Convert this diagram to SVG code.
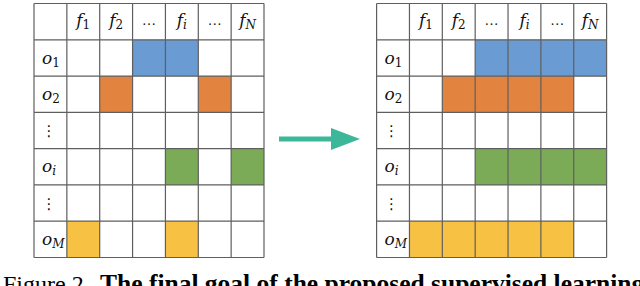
<svg xmlns="http://www.w3.org/2000/svg" width="640" height="286" viewBox="0 0 640 286">
<style>
.bg{fill:#ffffff}
.grid{fill:none;stroke:#5f5f5f;stroke-width:1.2}
.blue{fill:#6a9bd2}
.orange{fill:#e2843f}
.green{fill:#7bab56}
.yellow{fill:#f7c244}
.m{font-family:"DejaVu Serif","Liberation Serif",serif;font-style:italic;font-size:17px;fill:#111}
.hd{text-anchor:middle}
.sub{font-size:12px}
.up{font-style:normal}
.dots{font-family:"Liberation Serif",serif;font-size:14px;fill:#111;text-anchor:middle}
.vdots{font-family:"DejaVu Sans",sans-serif;font-size:15px;fill:#111;text-anchor:middle}
.cap{font-family:"Liberation Serif","Times New Roman",serif;font-size:24px;fill:#000}
.arrow{fill:#3cb79a}
</style>
<rect class="bg" x="0" y="0" width="640" height="286"/>

<g id="table-left" transform="translate(34,3.5)">
  <g id="left-cells">
    <rect class="blue" x="98.57" y="36.29" width="65.71" height="36.29"/>
    <rect class="orange" x="65.71" y="72.57" width="32.86" height="36.29"/>
    <rect class="orange" x="164.29" y="72.57" width="32.86" height="36.29"/>
    <rect class="green" x="131.43" y="145.14" width="32.86" height="36.29"/>
    <rect class="green" x="197.14" y="145.14" width="32.86" height="36.29"/>
    <rect class="yellow" x="32.86" y="217.71" width="32.86" height="36.29"/>
    <rect class="yellow" x="131.43" y="217.71" width="32.86" height="36.29"/>
  </g>
  <path class="grid" d="M0 0V254M32.86 0V254M65.71 0V254M98.57 0V254M131.43 0V254M164.29 0V254M197.14 0V254M230 0V254M0 0H230M0 36.29H230M0 72.57H230M0 108.86H230M0 145.14H230M0 181.43H230M0 217.71H230M0 254H230"/>
  <g id="left-header">
    <text class="m hd" x="49.29" y="22">f<tspan class="sub up" dy="3">1</tspan></text>
    <text class="m hd" x="82.14" y="22">f<tspan class="sub up" dy="3">2</tspan></text>
    <text class="dots" x="115" y="21">…</text>
    <text class="m hd" x="147.86" y="22">f<tspan class="sub" dy="3">i</tspan></text>
    <text class="dots" x="180.71" y="21">…</text>
    <text class="m hd" x="213.57" y="22">f<tspan class="sub" dy="3">N</tspan></text>
  </g>
  <g id="left-rows">
    <text class="m" x="8" y="60">o<tspan class="sub up" dy="3">1</tspan></text>
    <text class="m" x="8" y="96.3">o<tspan class="sub up" dy="3">2</tspan></text>
    <text class="vdots" x="15" y="132">⋮</text>
    <text class="m" x="8" y="168.9">o<tspan class="sub" dy="3">i</tspan></text>
    <text class="vdots" x="15" y="205">⋮</text>
    <text class="m" x="8" y="241.5">o<tspan class="sub" dy="3">M</tspan></text>
  </g>
</g>

<g id="connectors">
  <g id="arrow">
    <rect class="arrow" x="279" y="136.5" width="54" height="5"/>
    <polygon class="arrow" points="331,128 360,139 331,150"/>
  </g>
</g>

<g id="table-right" transform="translate(376.6,3.5)">
  <g id="right-cells">
    <rect class="blue" x="98.57" y="36.29" width="131.43" height="36.29"/>
    <rect class="orange" x="65.71" y="72.57" width="131.43" height="36.29"/>
    <rect class="green" x="98.57" y="145.14" width="131.43" height="36.29"/>
    <rect class="yellow" x="32.86" y="217.71" width="164.29" height="36.29"/>
  </g>
  <path class="grid" d="M0 0V254M32.86 0V254M65.71 0V254M98.57 0V254M131.43 0V254M164.29 0V254M197.14 0V254M230 0V254M0 0H230M0 36.29H230M0 72.57H230M0 108.86H230M0 145.14H230M0 181.43H230M0 217.71H230M0 254H230"/>
  <g id="right-header">
    <text class="m hd" x="49.29" y="22">f<tspan class="sub up" dy="3">1</tspan></text>
    <text class="m hd" x="82.14" y="22">f<tspan class="sub up" dy="3">2</tspan></text>
    <text class="dots" x="115" y="21">…</text>
    <text class="m hd" x="147.86" y="22">f<tspan class="sub" dy="3">i</tspan></text>
    <text class="dots" x="180.71" y="21">…</text>
    <text class="m hd" x="213.57" y="22">f<tspan class="sub" dy="3">N</tspan></text>
  </g>
  <g id="right-rows">
    <text class="m" x="8" y="60">o<tspan class="sub up" dy="3">1</tspan></text>
    <text class="m" x="8" y="96.3">o<tspan class="sub up" dy="3">2</tspan></text>
    <text class="vdots" x="15" y="132">⋮</text>
    <text class="m" x="8" y="168.9">o<tspan class="sub" dy="3">i</tspan></text>
    <text class="vdots" x="15" y="205">⋮</text>
    <text class="m" x="8" y="241.5">o<tspan class="sub" dy="3">M</tspan></text>
  </g>
</g>

<g id="caption">
  <text class="cap" x="3" y="292">Figure 2.<tspan x="100" font-weight="bold" font-size="25.5">The final goal of the proposed supervised learning</tspan></text>
</g>
</svg>
